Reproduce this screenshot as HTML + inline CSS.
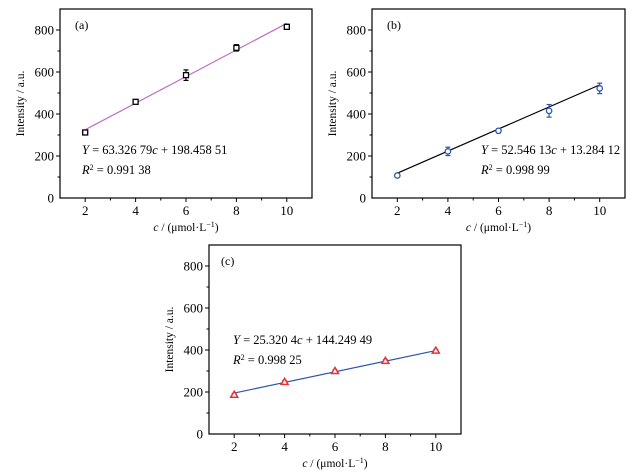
<!DOCTYPE html>
<html><head><meta charset="utf-8"><style>
body{margin:0;background:#fff;}
svg{display:block;font-family:"Liberation Serif",serif;}
</style></head><body>
<svg id="s" width="637" height="472"></svg>
<script>
const xCategories=[2,4,6,8,10];
const yTicks=[0,200,400,600,800];
const xTickLabels=["2","4","6","8","10"];
const yTickLabels=["0","200","400","600","800"];
const seriesA=[312,458,585,715,815];
const errA=[8,5,25,15,12];
const fitA=[63.32679,198.45851];
const seriesB=[107,222,320,415,522];
const errB=[5,20,10,30,25];
const fitB=[52.54613,13.28412];
const seriesC=[187,248,300,348,397];
const errC=[6,6,6,6,6];
const fitC=[25.3204,144.24949];
const NS="http://www.w3.org/2000/svg";
const svg=document.getElementById('s');
function mk(tag,attrs,parent,text){const e=document.createElementNS(NS,tag);for(const k in attrs)e.setAttribute(k,attrs[k]);if(text!==undefined)e.textContent=text;(parent||svg).appendChild(e);return e;}
function panel(p){
  const g=mk('g',{});
  
  
  const sx=v=>p.L+(v-1)/10*(p.R-p.L);
  const sy=v=>p.B-(v/900)*(p.B-p.T);
  const f=mk('rect',{x:p.L,y:p.T,width:p.R-p.L,height:p.B-p.T,fill:'none',stroke:'#000','stroke-width':1.2},g);
  
  for(let v=100;v<900;v+=100){const major=v%200===0;mk('line',{x1:p.L,x2:p.L-(major?4:2.5),y1:sy(v),y2:sy(v),stroke:'#000'},g);}
  for(let v=2;v<=10;v++){const major=v%2===0;mk('line',{x1:sx(v),x2:sx(v),y1:p.B,y2:p.B+(major?4:2.5),stroke:'#000'},g);}
  yTicks.forEach((v,i)=>{const t=mk('text',{x:p.L-6,y:sy(v)+4.5,'text-anchor':'end','font-size':13},g,yTickLabels[i]);});
  xCategories.forEach((v,i)=>{const t=mk('text',{x:sx(v),y:p.B+17,'text-anchor':'middle','font-size':13},g,xTickLabels[i]);});
  const yt=mk('text',{x:0,y:0,'text-anchor':'middle','font-size':11.5,transform:`translate(${p.L-36},${(p.T+p.B)/2}) rotate(-90)`},g,'Intensity / a.u.');
  
  const xt=mk('text',{x:(p.L+p.R)/2,y:p.B+33,'text-anchor':'middle','font-size':11.5},g);
  
  xt.innerHTML='<tspan font-style="italic">c</tspan> / (μmol·L<tspan baseline-shift="super" font-size="8">−1</tspan>)';
  const fl=mk('line',{x1:sx(2),y1:sy(p.fit[0]*2+p.fit[1]),x2:sx(10),y2:sy(p.fit[0]*10+p.fit[1]),stroke:p.lc,'stroke-width':1.2},g);
  
  xCategories.forEach((c,i)=>{
    const x=sx(c),y=sy(p.data[i]),e=p.err[i]*(p.B-p.T)/900;
    mk('line',{x1:x,x2:x,y1:y-e,y2:y+e,stroke:p.mc,'stroke-width':1.2},g);
    mk('line',{x1:x-2.5,x2:x+2.5,y1:y-e,y2:y-e,stroke:p.mc,'stroke-width':1.2},g);
    mk('line',{x1:x-2.5,x2:x+2.5,y1:y+e,y2:y+e,stroke:p.mc,'stroke-width':1.2},g);
    let m;
    if(p.shape==='sq')m=mk('rect',{x:x-2.5,y:y-2.5,width:5,height:5,fill:'#fff',stroke:p.mc,'stroke-width':1.3},g);
    else if(p.shape==='ci')m=mk('circle',{cx:x,cy:y,r:2.7,fill:'#fff',stroke:p.mc,'stroke-width':1.3},g);
    else m=mk('polygon',{points:`${x},${y-3.5} ${x-3.5},${y+2.5} ${x+3.5},${y+2.5}`,fill:'#fff',stroke:p.mc,'stroke-width':1.5},g);
    
  });
  const lab=mk('text',{x:p.lx,y:p.ly,'font-size':12},g,p.lab);
  
  const eq=mk('text',{x:p.ex,y:p.ey,'font-size':12.5},g);
  
  eq.innerHTML=`<tspan font-style="italic">Y</tspan> = ${p.eq1}<tspan font-style="italic">c</tspan> + ${p.eq2}`;
  const r2=mk('text',{x:p.ex,y:p.ey+20,'font-size':12.5},g);
  
  r2.innerHTML=`<tspan font-style="italic">R</tspan><tspan baseline-shift="super" font-size="8">2</tspan> = ${p.r2}`;
}
panel({id:'a',L:60,R:312,T:9,B:198,data:seriesA,err:errA,fit:fitA,lc:'#c06cc0',mc:'#000',shape:'sq',lab:'(a)',lx:75,ly:29,ex:82,ey:154,eq1:'63.326 79',eq2:'198.458 51',r2:'0.991 38'});
panel({id:'b',L:372,R:625,T:9,B:198,data:seriesB,err:errB,fit:fitB,lc:'#000',mc:'#2a55b0',shape:'ci',lab:'(b)',lx:387,ly:29,ex:481,ey:154,eq1:'52.546 13',eq2:'13.284 12',r2:'0.998 99'});
panel({id:'c',L:209,R:461,T:245,B:434,data:seriesC,err:errC,fit:fitC,lc:'#2a55b0',mc:'#e83030',shape:'tri',lab:'(c)',lx:221,ly:265,ex:233,ey:344,eq1:'25.320 4',eq2:'144.249 49',r2:'0.998 25'});
</script>
</body></html>
